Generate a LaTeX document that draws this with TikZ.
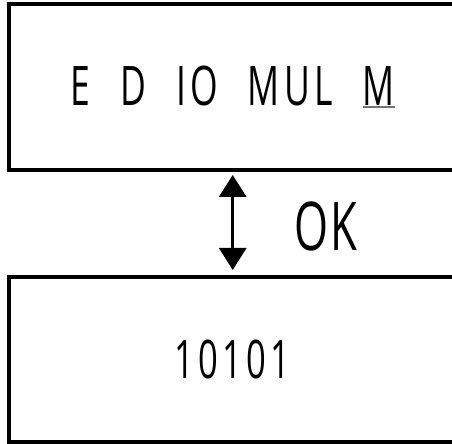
\documentclass[tikz,border=0pt]{standalone}
\usepackage{fontspec}
\setmainfont{Open Sans}[FakeStretch=0.65,LetterSpace=8,WordSpace=2.2]
\usetikzlibrary{arrows.meta}
\definecolor{ulgrey}{gray}{0.45}
\newcommand\greyul[1]{\setbox0\hbox{#1}\rlap{\textcolor{ulgrey}{\rule[-0.06cm]{\wd0}{0.04cm}}}\box0}
\tikzset{panel/.style={draw,line width=0.1cm,outer sep=0pt,inner sep=0pt,minimum width=11.2cm}}

\begin{document}
\begin{tikzpicture}[x=0.025cm,y=-0.025cm]
\useasboundingbox (0,0) rectangle (452,444);
\node[panel,minimum height=4.16cm] (regs) at (232.7,86.75)
  {\fontsize{38.8}{46}\selectfont E D IO MUL \greyul{M}};
\node[panel,minimum height=4.125cm] (bits) at (232.7,359.5)
  {\fontsize{37.8}{45}\selectfont 10101};
\draw[line width=0.075cm,{Triangle[width=0.675cm,length=0.55cm]}-{Triangle[width=0.675cm,length=0.55cm]},
  shorten <=0.125cm,shorten >=0.175cm] (regs.south) -- (bits.north);
\node (ok) at (326,226) {\fontsize{47.8}{56}\selectfont\addfontfeature{LetterSpace=2}OK};
\end{tikzpicture}
\end{document}
